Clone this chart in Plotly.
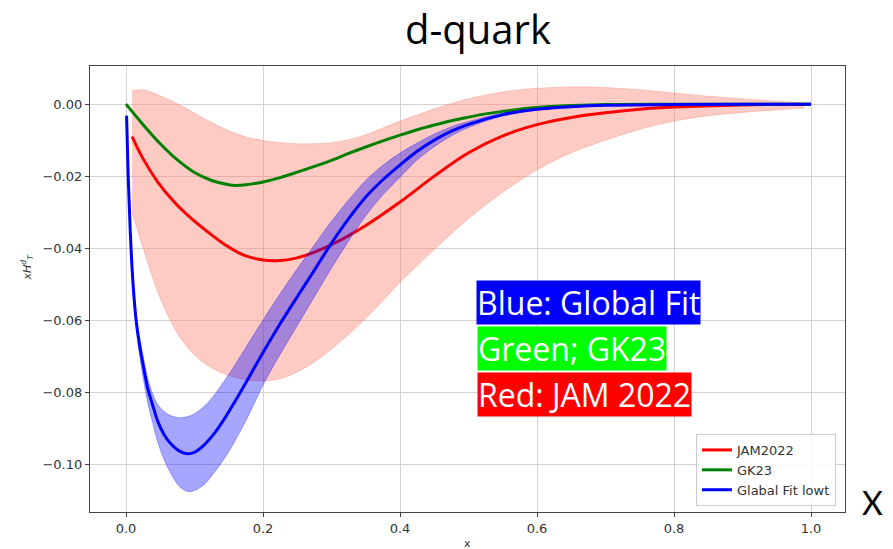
import plotly.graph_objects as go

# ---------------- data ----------------
blue_x = [0.0008, 0.003, 0.006, 0.01, 0.015, 0.02, 0.025, 0.0318, 0.04, 0.0465, 0.055, 0.065, 0.078, 0.09,
          0.1, 0.115, 0.13, 0.145, 0.16, 0.18, 0.2, 0.225, 0.25, 0.275, 0.3, 0.325, 0.35, 0.375, 0.4, 0.425,
          0.45, 0.475, 0.5, 0.55, 0.6, 0.65, 0.7, 0.8, 0.9, 1.0]
blue_y = [-0.0032, -0.0190, -0.0345, -0.0493, -0.0605, -0.0672, -0.0725, -0.0790, -0.0843, -0.0882, -0.0916,
          -0.0943, -0.0964, -0.0971, -0.0967, -0.0945, -0.0912, -0.0870, -0.0823, -0.0757, -0.0690, -0.0610,
          -0.0535, -0.0461, -0.0386, -0.0318, -0.0258, -0.0210, -0.0169, -0.0131, -0.0100, -0.0075, -0.0056,
          -0.0029, -0.0014, -0.0007, -0.0003, -0.0001, 0.0, 0.0]
blue_up = [-0.0030, -0.0182, -0.0335, -0.0478, -0.0588, -0.0650, -0.0700, -0.0762, -0.0810, -0.0835, -0.0853,
           -0.0865, -0.0871, -0.0868, -0.0860, -0.0838, -0.0805, -0.0765, -0.0722, -0.0660, -0.0600, -0.0527,
           -0.0457, -0.0391, -0.0325, -0.0266, -0.0212, -0.0170, -0.0136, -0.0108, -0.0083, -0.0063, -0.0048,
           -0.0025, -0.0012, -0.0006, -0.0003, -0.0001, 0.0, 0.0]
blue_lo = [-0.0034, -0.0198, -0.0356, -0.0508, -0.0625, -0.0700, -0.0760, -0.0830, -0.0893, -0.0940, -0.0985,
           -0.1025, -0.1062, -0.1076, -0.1073, -0.1055, -0.1020, -0.0980, -0.0932, -0.0860, -0.0780, -0.0695,
           -0.0615, -0.0535, -0.0455, -0.0380, -0.0310, -0.0252, -0.0203, -0.0155, -0.0118, -0.0088, -0.0065,
           -0.0033, -0.0016, -0.0008, -0.0003, -0.0001, 0.0, 0.0]

red_x = [0.0088, 0.025, 0.0466, 0.07, 0.0956, 0.12, 0.145, 0.17, 0.2, 0.22, 0.25, 0.3, 0.35, 0.4, 0.45, 0.5,
         0.55, 0.6, 0.65, 0.7, 0.75, 0.8, 0.9, 1.0]
red_y = [-0.0090, -0.0152, -0.0217, -0.0271, -0.0318, -0.0356, -0.0391, -0.0418, -0.0433, -0.0435, -0.0427,
         -0.0390, -0.0337, -0.0272, -0.0200, -0.0135, -0.0088, -0.0057, -0.0037, -0.0024, -0.0014, -0.0008,
         -0.0002, 0.0]

red_band_x = [0.0088, 0.025, 0.05, 0.075, 0.1, 0.125, 0.15, 0.175, 0.2, 0.225, 0.25, 0.275, 0.3, 0.325, 0.35,
              0.375, 0.4, 0.425, 0.45, 0.475, 0.5, 0.55, 0.6, 0.65, 0.7, 0.75, 0.8, 0.85, 0.9, 0.95, 0.99]
red_up_y = [0.0037, 0.0040, 0.0023, 0.0001, -0.0025, -0.0051, -0.0074, -0.0091, -0.0101, -0.0107, -0.0110,
            -0.0110, -0.0107, -0.0099, -0.0085, -0.0066, -0.0047, -0.0030, -0.0013, 0.0002, 0.0015, 0.0034,
            0.0044, 0.0048, 0.0046, 0.0040, 0.0031, 0.0022, 0.0015, 0.0008, 0.0003]
red_lo_y = [-0.0300, -0.0400, -0.0540, -0.0637, -0.0697, -0.0733, -0.0754, -0.0766, -0.0769, -0.0763, -0.0744,
            -0.0716, -0.0680, -0.0640, -0.0595, -0.0546, -0.0495, -0.0449, -0.0404, -0.0360, -0.0318, -0.0245,
            -0.0183, -0.0135, -0.0100, -0.0070, -0.0047, -0.0032, -0.0023, -0.0016, -0.0011]

green_x = [0.0, 0.025, 0.05, 0.075, 0.1, 0.125, 0.15, 0.16, 0.175, 0.2, 0.225, 0.25, 0.275, 0.3, 0.325, 0.35,
           0.375, 0.4, 0.425, 0.45, 0.475, 0.5, 0.525, 0.55, 0.575, 0.6, 0.65, 0.7, 0.8, 1.0]
green_y = [0.0, -0.0057, -0.0110, -0.0155, -0.0190, -0.0212, -0.0224, -0.0226, -0.0224, -0.0216, -0.0204,
           -0.0189, -0.0173, -0.0156, -0.0137, -0.0119, -0.0102, -0.0086, -0.0071, -0.0058, -0.0046, -0.0036,
           -0.0027, -0.0020, -0.0014, -0.0009, -0.0004, -0.0001, 0.0, 0.0]

legend_names = ["JAM2022", "GK23", "Glabal Fit lowt"]
x_ticks = [0.0, 0.2, 0.4, 0.6, 0.8, 1.0]
y_ticks = [-0.10, -0.08, -0.06, -0.04, -0.02, 0.00]

RED_FILL = "rgba(250,128,114,0.42)"
BLUE_FILL = "rgba(0,0,255,0.35)"


def ln(color=None, width=3):
    d = dict(width=width, shape="spline", smoothing=1.0, simplify=False)
    if color:
        d["color"] = color
    return d


# ---------------- figure ----------------
fig = go.Figure()

# red band
fig.add_trace(go.Scatter(x=red_band_x, y=red_lo_y, mode="lines", line=ln("rgba(250,128,114,0.35)", 1),
                         showlegend=False, hoverinfo="skip"))
fig.add_trace(go.Scatter(x=red_band_x, y=red_up_y, mode="lines", line=ln("rgba(250,128,114,0.35)", 1),
                         fill="tonexty", fillcolor=RED_FILL, showlegend=False, hoverinfo="skip"))
# red line
fig.add_trace(go.Scatter(x=red_x, y=red_y, mode="lines", name=legend_names[0], line=ln("red")))
# green line
fig.add_trace(go.Scatter(x=green_x, y=green_y, mode="lines", name=legend_names[1], line=ln("green")))
# blue band
fig.add_trace(go.Scatter(x=blue_x, y=blue_lo, mode="lines", line=ln("rgba(0,0,255,0.3)", 1),
                         showlegend=False, hoverinfo="skip"))
fig.add_trace(go.Scatter(x=blue_x, y=blue_up, mode="lines", line=ln("rgba(0,0,255,0.3)", 1),
                         fill="tonexty", fillcolor=BLUE_FILL, showlegend=False, hoverinfo="skip"))
# blue line
fig.add_trace(go.Scatter(x=blue_x, y=blue_y, mode="lines", name=legend_names[2], line=ln("blue")))

axis_common = dict(
    showgrid=True, gridcolor="#d3d3d3", gridwidth=1,
    showline=True, linecolor="#444", linewidth=1.2, mirror=True,
    ticks="outside", ticklen=4, tickcolor="#444", tickwidth=1,
    zeroline=False,
    tickfont=dict(family="DejaVu Sans", size=13, color="#333"),
)
fig.update_xaxes(range=[-0.0526, 1.0496], tickvals=x_ticks, tickformat=".1f", **axis_common)
fig.update_yaxes(range=[-0.1133, 0.0106], tickvals=y_ticks, tickformat=".2f", **axis_common)

box_font = dict(family="Open Sans", size=32, color="white")
annotations = [
    dict(text="d-quark", xref="paper", yref="paper", x=0.514, y=1.083, xanchor="center", yanchor="middle",
         showarrow=False, font=dict(family="Open Sans", size=40, color="black")),
    dict(text="x", xref="paper", yref="paper", x=0.5, y=-0.07, xanchor="center", yanchor="middle",
         showarrow=False, font=dict(family="DejaVu Sans", size=11, color="#333")),
    dict(text="<i>xH</i><sup><i>d</i></sup><sub><i>T</i></sub>", xref="paper", yref="paper", x=-0.083, y=0.549,
         xanchor="center", yanchor="middle", textangle=-90,
         showarrow=False, font=dict(family="DejaVu Sans", size=11, color="#333")),
    dict(text="X", xref="paper", yref="paper", x=1.0358, y=0.022, xanchor="center", yanchor="middle",
         showarrow=False, font=dict(family="Lato", size=32, color="black")),
    dict(text="Blue: Global Fit", xref="x", yref="y", x=0.511, y=-0.0489, xanchor="left", yanchor="top",
         showarrow=False, bgcolor="#0000ff", borderpad=0, font=box_font),
    dict(text="Green; GK23", xref="x", yref="y", x=0.512, y=-0.0616, xanchor="left", yanchor="top",
         showarrow=False, bgcolor="#00ff00", borderpad=0, font=box_font),
    dict(text="Red: JAM 2022", xref="x", yref="y", x=0.512, y=-0.0744, xanchor="left", yanchor="top",
         showarrow=False, bgcolor="#ff0000", borderpad=0, font=box_font),
]

fig.update_layout(
    width=893, height=549,
    margin=dict(l=90, r=48, t=66, b=37, autoexpand=False),
    paper_bgcolor="white", plot_bgcolor="white",
    annotations=annotations,
    showlegend=True,
    legend=dict(x=0.988, y=0.0135, xanchor="right", yanchor="bottom", traceorder="normal",
                bgcolor="rgba(255,255,255,0.85)", bordercolor="#cccccc", borderwidth=1,
                font=dict(family="DejaVu Sans", size=13, color="#333"),
                itemwidth=30, tracegroupgap=0),
)

fig.write_html("out.html")
